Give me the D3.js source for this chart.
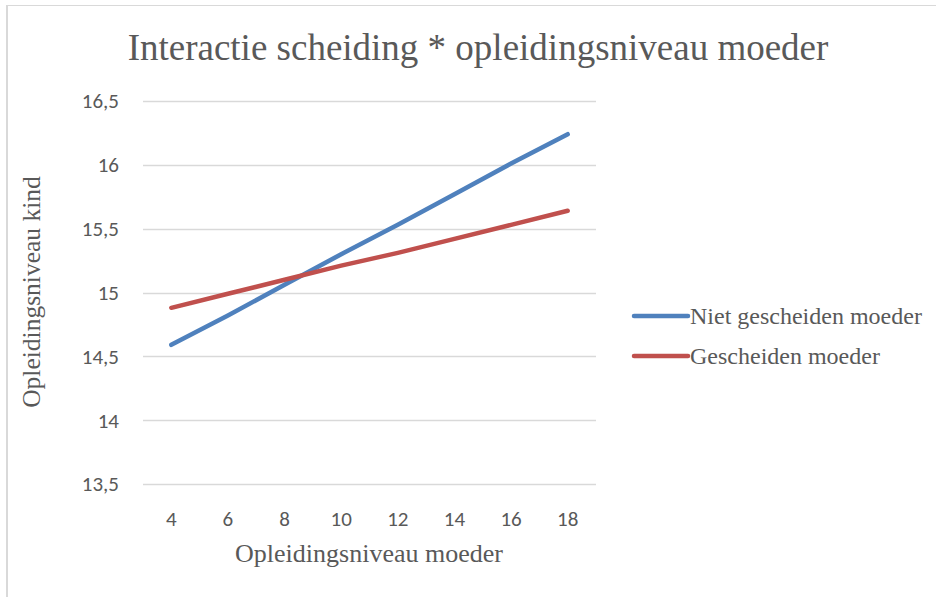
<!DOCTYPE html>
<html>
<head>
<meta charset="utf-8">
<script src="https://cdn.jsdelivr.net/npm/d3@7"></script>
<style>
  body { margin: 0; background: #fff; }
  svg { display: block; }
</style>
</head>
<body>
<svg width="936" height="597"></svg>
<script>
var xLevels = [4, 6, 8, 10, 12, 14, 16, 18];
var yTicks = [13.5, 14, 14.5, 15, 15.5, 16, 16.5];
var nietGescheiden = [14.59, 14.82, 15.06, 15.30, 15.53, 15.77, 16.01, 16.24];
var gescheiden = [14.88, 14.99, 15.10, 15.21, 15.31, 15.42, 15.53, 15.64];
var seriesNames = ["Niet gescheiden moeder", "Gescheiden moeder"];
var seriesColors = ["#4f81bd", "#c0504d"];

var svg = d3.select("svg");
var serif = "'Liberation Serif', 'Times New Roman', serif";
var sans = "Carlito, 'Open Sans', 'Liberation Sans', sans-serif";
var textColor = "#595959";

// frame (only top + left edges are visible)
svg.append("line").attr("x1", 7).attr("x2", 936).attr("y1", 5.5).attr("y2", 5.5)
    .attr("stroke", "#d9d9d9").attr("stroke-width", 1);
svg.append("line").attr("x1", 7).attr("x2", 7).attr("y1", 5).attr("y2", 597)
    .attr("stroke", "#d9d9d9").attr("stroke-width", 2);

var plotLeft = 143, plotRight = 596, plotTop = 101, plotBottom = 484;

var x = d3.scaleBand().domain(xLevels).range([plotLeft, plotRight]);
var y = d3.scaleLinear().domain([13.5, 16.5]).range([plotBottom, plotTop]);

// gridlines
svg.append("g").selectAll("line")
    .data(yTicks)
    .enter()
    .append("line")
    .attr("x1", plotLeft).attr("x2", plotRight)
    .attr("y1", function (d) { return Math.round(y(d)) + 0.5; })
    .attr("y2", function (d) { return Math.round(y(d)) + 0.5; })
    .attr("stroke", "#d9d9d9").attr("stroke-width", 1.5);

// y tick labels
svg.append("g").selectAll("text")
    .data(yTicks)
    .enter()
    .append("text")
    .attr("x", 119)
    .attr("y", function (d) { return y(d); })
    .attr("dy", "0.35em")
    .attr("text-anchor", "end")
    .attr("fill", textColor)
    .style("font-family", sans)
    .style("font-size", "21px")
    .text(function (d) { return String(d).replace(".", ","); });

// x tick labels
svg.append("g").selectAll("text")
    .data(xLevels)
    .enter()
    .append("text")
    .attr("x", function (d) { return x(d) + x.bandwidth() / 2; })
    .attr("y", 526)
    .attr("text-anchor", "middle")
    .attr("fill", textColor)
    .style("font-family", sans)
    .style("font-size", "21px")
    .text(function (d) { return d; });

// lines
var line = d3.line()
    .x(function (d, i) { return x(xLevels[i]) + x.bandwidth() / 2; })
    .y(function (d) { return y(d); });

[nietGescheiden, gescheiden].forEach(function (s, i) {
    svg.append("path")
        .datum(s)
        .attr("d", line)
        .attr("fill", "none")
        .attr("stroke", seriesColors[i])
        .attr("stroke-width", 4.5)
        .attr("stroke-linecap", "round")
        .attr("stroke-linejoin", "round");
});

// title
svg.append("text")
    .attr("x", 478).attr("y", 60)
    .attr("text-anchor", "middle")
    .attr("fill", textColor)
    .style("font-family", serif)
    .style("font-size", "37px")
    .text("Interactie scheiding * opleidingsniveau moeder");

// axis titles
svg.append("text")
    .attr("x", 369).attr("y", 562)
    .attr("text-anchor", "middle")
    .attr("fill", textColor)
    .style("font-family", serif)
    .style("font-size", "26px")
    .text("Opleidingsniveau moeder");

svg.append("text")
    .attr("transform", "translate(40,292) rotate(-90)")
    .attr("text-anchor", "middle")
    .attr("fill", textColor)
    .style("font-family", serif)
    .style("font-size", "25.5px")
    .text("Opleidingsniveau kind");

// legend
var legend = svg.append("g").selectAll("g")
    .data(seriesNames)
    .enter()
    .append("g")
    .attr("transform", function (d, i) { return "translate(634," + (316 + i * 40) + ")"; });

legend.append("line")
    .attr("x1", 0).attr("x2", 54)
    .attr("stroke", function (d, i) { return seriesColors[i]; })
    .attr("stroke-width", 4.5)
    .attr("stroke-linecap", "round");

legend.append("text")
    .attr("x", 56)
    .attr("dy", "0.32em")
    .attr("fill", textColor)
    .style("font-family", serif)
    .style("font-size", "24px")
    .text(function (d) { return d; });
</script>
</body>
</html>
